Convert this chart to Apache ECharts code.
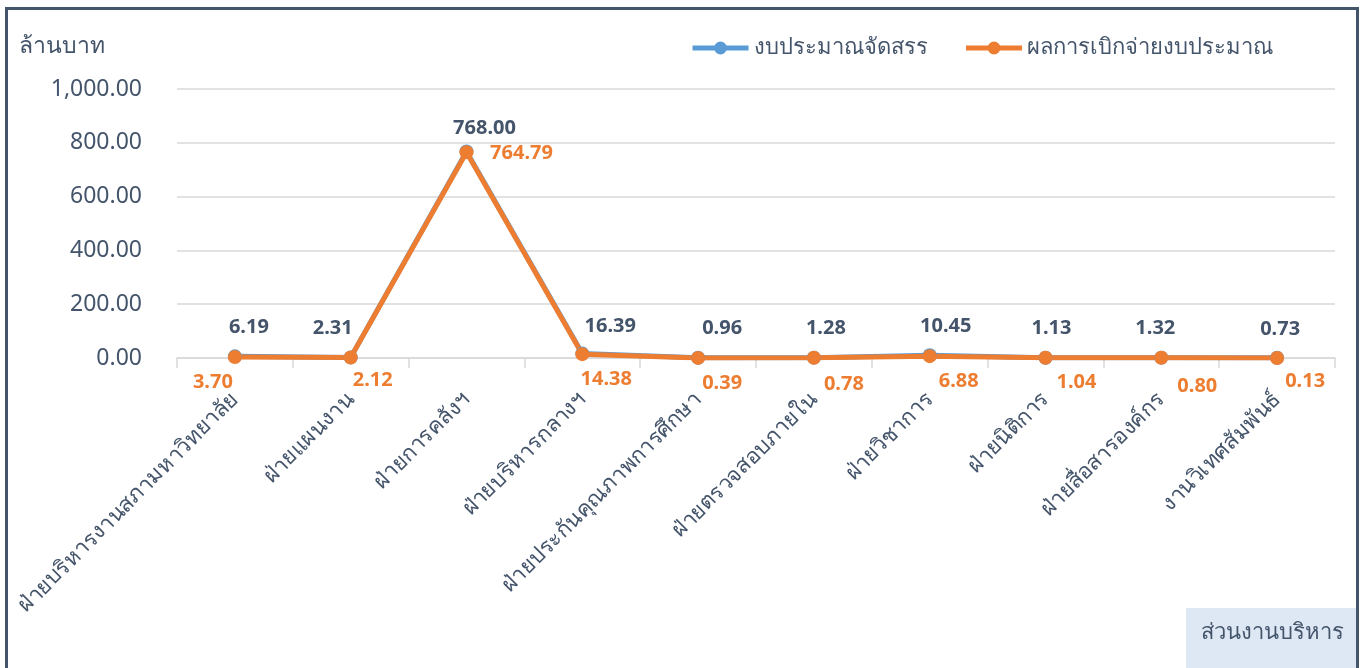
<!DOCTYPE html>
<html><head><meta charset="utf-8">
<script src="https://cdn.jsdelivr.net/npm/echarts@6/dist/echarts.min.js"></script>
<style>html,body{margin:0;padding:0;background:#fff}#c{width:1366px;height:668px}</style>
</head><body><div id="c"></div>
<script>
const categories = ['ฝ่ายบริหารงานสภามหาวิทยาลัย','ฝ่ายแผนงาน','ฝ่ายการคลังฯ','ฝ่ายบริหารกลางฯ','ฝ่ายประกันคุณภาพการศึกษา','ฝ่ายตรวจสอบภายใน','ฝ่ายวิชาการ','ฝ่ายนิติการ','ฝ่ายสื่อสารองค์กร','งานวิเทศสัมพันธ์'];
const allocated = [6.19, 2.31, 768.00, 16.39, 0.96, 1.28, 10.45, 1.13, 1.32, 0.73];
const spent = [3.70, 2.12, 764.79, 14.38, 0.39, 0.78, 6.88, 1.04, 0.80, 0.13];
const seriesNames = ['งบประมาณจัดสรร', 'ผลการเบิกจ่ายงบประมาณ'];
const yTicks = [0, 200, 400, 600, 800, 1000];

// label offsets (presentation only)
const allocOffsets = [[14,0],[-18,0],[18,6],[28,2],[24,0],[12,0],[16,0],[6,0],[-6,0],[3,0]];
const spentOffsets = [[-22,0],[22,-2],[55,-24],[24,0],[24,0],[30,2],[29,0],[31,0],[36,4],[28,-2]];

const font = '"Noto Sans", "Noto Sans CJK SC", sans-serif';
const slate = '#44546a';
const fmt = v => Number(v).toLocaleString('en-US',{minimumFractionDigits:2, maximumFractionDigits:2});

const chart = echarts.init(document.getElementById('c'));
chart.setOption({
  animation:false,
  textStyle:{fontFamily:font},
  graphic:[
    {type:'rect', shape:{x:6.5,y:8.5,width:1351,height:720}, style:{fill:'none', stroke:slate, lineWidth:3}},
    {type:'text', left:19, top:35, style:{text:'ล้านบาท', font:'23px '+font, fill:slate}},
    {type:'group', right:10, bottom:0, children:[
      {type:'rect', shape:{x:0,y:0,width:170,height:60}, style:{fill:'#dde8f4'}},
      {type:'text', x:15, y:14, style:{text:'ส่วนงานบริหาร', font:'22px '+font, fill:slate}}
    ]}
  ],
  legend:{
    top:32, right:88, itemWidth:56, itemHeight:16, itemGap:36,
    lineStyle:{width:5},
    textStyle:{fontSize:22, color:slate, fontFamily:font},
    data:seriesNames
  },
  grid:{left:177, right:31, top:89, bottom:310, containLabel:false},
  xAxis:{
    type:'category', data:categories, boundaryGap:true,
    axisLine:{lineStyle:{color:'#d9d9d9', width:1.5}},
    axisTick:{show:true, length:10, lineStyle:{color:'#d9d9d9', width:1.5}},
    axisLabel:{rotate:45, interval:0, fontSize:22, color:slate, margin:38, fontFamily:font}
  },
  yAxis:{
    type:'value', min:0, max:1000, interval:200,
    axisLine:{show:false}, axisTick:{show:false},
    splitLine:{lineStyle:{color:'#d9d9d9', width:1.5}},
    axisLabel:{fontSize:23, color:slate, margin:35, fontFamily:font, formatter:v=>fmt(v)}
  },
  series:[
    {name:seriesNames[0], type:'line', data:allocated.map((v,i)=>({value:v, label:{offset:allocOffsets[i]}})),
     color:'#5b9bd5', lineStyle:{width:5, color:'#5b9bd5'}, symbol:'circle', symbolSize:14,
     itemStyle:{color:'#5b9bd5'},
     label:{show:true, position:'top', distance:12, fontSize:20, fontWeight:'bold', color:slate, formatter:p=>fmt(p.value)}},
    {name:seriesNames[1], type:'line', data:spent.map((v,i)=>({value:v, label:{offset:spentOffsets[i]}})),
     color:'#ed7d31', lineStyle:{width:5, color:'#ed7d31'}, symbol:'circle', symbolSize:14,
     itemStyle:{color:'#ed7d31'},
     label:{show:true, position:'bottom', distance:8, fontSize:20, fontWeight:'bold', color:'#ed7d31', formatter:p=>fmt(p.value)}}
  ]
});
</script></body></html>
